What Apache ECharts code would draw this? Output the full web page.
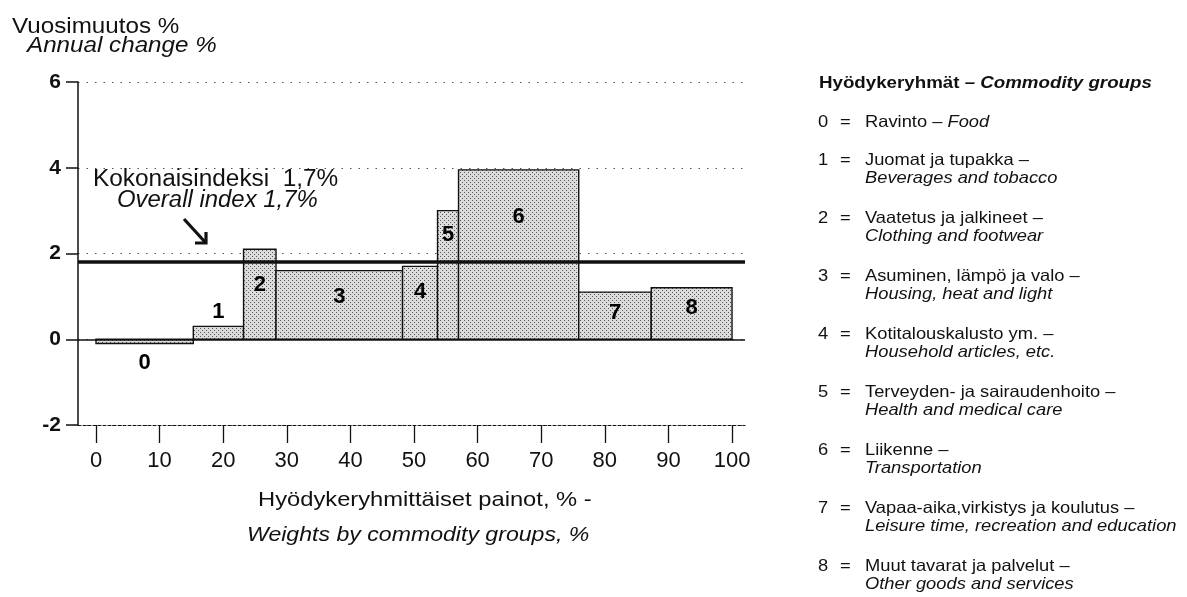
<!DOCTYPE html>
<html><head><meta charset="utf-8">
<script src="https://cdn.jsdelivr.net/npm/echarts@6/dist/echarts.min.js"></script>
<style>html,body{margin:0;padding:0;background:#fff}#c{width:1187px;height:597px}</style>
</head><body><div id="c"></div>
<script>
// ---- data ----
const groups = ['0', '1', '2', '3', '4', '5', '6', '7', '8'];
const weights = [15.3, 7.9, 5.1, 19.9, 5.5, 3.3, 18.9, 11.4, 12.7];   // % weight (bar width)
const changes = [-0.1, 0.3, 2.1, 1.6, 1.7, 3.0, 3.95, 1.1, 1.2];      // annual change % (bar height)
const overallIndex = 1.8;
const xTickValues = [0, 10, 20, 30, 40, 50, 60, 70, 80, 90, 100];
const legendFi = ['Ravinto', 'Juomat ja tupakka –', 'Vaatetus ja jalkineet –', 'Asuminen, lämpö ja valo –',
  'Kotitalouskalusto ym. –', 'Terveyden- ja sairaudenhoito –', 'Liikenne –',
  'Vapaa-aika,virkistys ja koulutus –', 'Muut tavarat ja palvelut –'];
const legendEn = ['Food', 'Beverages and tobacco', 'Clothing and footwear', 'Housing, heat and light',
  'Household articles, etc.', 'Health and medical care', 'Transportation',
  'Leisure time, recreation and education', 'Other goods and services'];

// ---- label placement (value units, style) ----
const labelAt = [-0.56, 0.63, 1.26, 0.98, 1.1, 2.43, 2.85, 0.61, 0.72];

// build bar table
const bars = [];
let acc = 0;
for (let i = 0; i < weights.length; i++) {
  bars.push([acc, acc + weights[i], changes[i], labelAt[i]]);
  acc += weights[i];
}

function makePattern() {
  const c = document.createElement('canvas');
  c.width = 4; c.height = 4;
  const g = c.getContext('2d');
  g.fillStyle = '#dcdcdc'; g.fillRect(0, 0, 4, 4);
  g.fillStyle = '#555555'; g.fillRect(0, 0, 1, 1); g.fillRect(2, 2, 1, 1);
  return c;
}
const pattern = { image: makePattern(), repeat: 'repeat' };

const FONT = '"Liberation Sans", Arial, Helvetica, sans-serif';
function txt(x, y, text, font, sx, align) {
  return { type: 'text', x: x, y: y, scaleX: sx, silent: true,
    style: { text: text, font: font, fill: '#111', align: align || 'left', verticalAlign: 'middle' } };
}

const graphics = [];
graphics.push(txt(12, 27, 'Vuosimuutos %', '22px ' + FONT, 1.1));
graphics.push(txt(27, 46, 'Annual change %', 'italic 22px ' + FONT, 1.1));
graphics.push(txt(93, 180, 'Kokonaisindeksi  1,7%', '23px ' + FONT, 1.06));
graphics.push(txt(117, 201, 'Overall index 1,7%', 'italic 23px ' + FONT, 1.04));
graphics.push(txt(258, 500, 'Hyödykeryhmittäiset painot, % -', '21px ' + FONT, 1.13));
graphics.push(txt(247, 535, 'Weights by commodity groups, %', 'italic 21px ' + FONT, 1.1));
// arrow
graphics.push({ type: 'line', silent: true, shape: { x1: 184, y1: 219, x2: 205, y2: 242 },
  style: { stroke: '#111', lineWidth: 3.2 } });
graphics.push({ type: 'polyline', silent: true, shape: { points: [[195, 243], [206, 243], [206, 232]] },
  style: { stroke: '#111', lineWidth: 3.2, fill: null } });
// legend
graphics.push({ type: 'text', x: 819, y: 84, scaleX: 1.17, silent: true,
  style: { text: '{a|Hyödykeryhmät – }{b|Commodity groups}', verticalAlign: 'middle', fill: '#111',
    rich: { a: { font: 'bold 16px ' + FONT, fill: '#111' }, b: { font: 'italic bold 16px ' + FONT, fill: '#111' } } } });
const LF = '16.5px ' + FONT, LIF = 'italic 16.5px ' + FONT, LSX = 1.11;
for (let i = 0; i < groups.length; i++) {
  const y = i === 0 ? 122 : 160 + 58 * (i - 1);
  graphics.push(txt(818, y, groups[i], LF, LSX));
  graphics.push(txt(840, y, '=', LF, LSX));
  if (i === 0) {
    graphics.push({ type: 'text', x: 865, y: y, scaleX: LSX, silent: true,
      style: { text: '{a|' + legendFi[0] + ' – }{b|' + legendEn[0] + '}', verticalAlign: 'middle', fill: '#111',
        rich: { a: { font: LF, fill: '#111' }, b: { font: LIF, fill: '#111' } } } });
  } else {
    graphics.push(txt(865, y, legendFi[i], LF, LSX));
    graphics.push(txt(865, y + 18, legendEn[i], LIF, LSX));
  }
}

const chart = echarts.init(document.getElementById('c'), null, { renderer: 'canvas' });
chart.setOption({
  animation: false,
  backgroundColor: '#fff',
  grid: { left: 78, right: 442, top: 82, bottom: 172, containLabel: false },
  xAxis: {
    type: 'value', min: -2.83, max: 102.04,
    axisLine: { show: true, onZero: false, lineStyle: { color: '#111', width: 1, type: [3, 2] } },
    axisTick: { show: true, customValues: xTickValues, length: 18, lineStyle: { color: '#111', width: 1.3 } },
    axisLabel: { customValues: xTickValues, margin: 25, fontSize: 22, fontFamily: FONT, color: '#111' },
    splitLine: { show: false }
  },
  yAxis: {
    type: 'value', min: -2, max: 6, interval: 2,
    axisLine: { show: true, onZero: false, lineStyle: { color: '#111', width: 1.5 } },
    axisTick: { show: true, length: 12, lineStyle: { color: '#111', width: 1.5 } },
    axisLabel: { margin: 17, fontSize: 21, fontWeight: 'bold', fontFamily: FONT, color: '#111', padding: [0, 0, 10, 0] },
    splitLine: { show: true, lineStyle: { color: '#555', width: 1, type: [1.5, 7] } }
  },
  graphic: graphics,
  series: [
    {
      type: 'custom', z: 2,
      data: bars,
      encode: { x: [0, 1], y: 2 },
      renderItem: function (params, api) {
        const s = api.value(0), e = api.value(1), v = api.value(2), la = api.value(3);
        const p0 = api.coord([s, 0]), p1 = api.coord([e, v]);
        const lp = api.coord([(s + e) / 2, la]);
        return { type: 'group', children: [
          { type: 'rect', shape: { x: p0[0], y: Math.min(p0[1], p1[1]), width: p1[0] - p0[0], height: Math.abs(p1[1] - p0[1]) },
            style: { fill: pattern, stroke: '#111', lineWidth: 1.4 } },
          { type: 'text', x: lp[0], y: lp[1],
            style: { text: groups[params.dataIndex], font: 'bold 22px ' + FONT, fill: '#000', align: 'center', verticalAlign: 'middle' } }
        ] };
      }
    },
    {
      type: 'line', z: 5, data: [], silent: true,
      markLine: {
        silent: true, symbol: ['none', 'none'], label: { show: false },
        data: [
          { yAxis: 0, lineStyle: { color: '#111', width: 1.5, type: 'solid' } },
          { yAxis: overallIndex, lineStyle: { color: '#111', width: 3.5, type: 'solid' } }
        ]
      }
    }
  ]
});
</script>
</body></html>
